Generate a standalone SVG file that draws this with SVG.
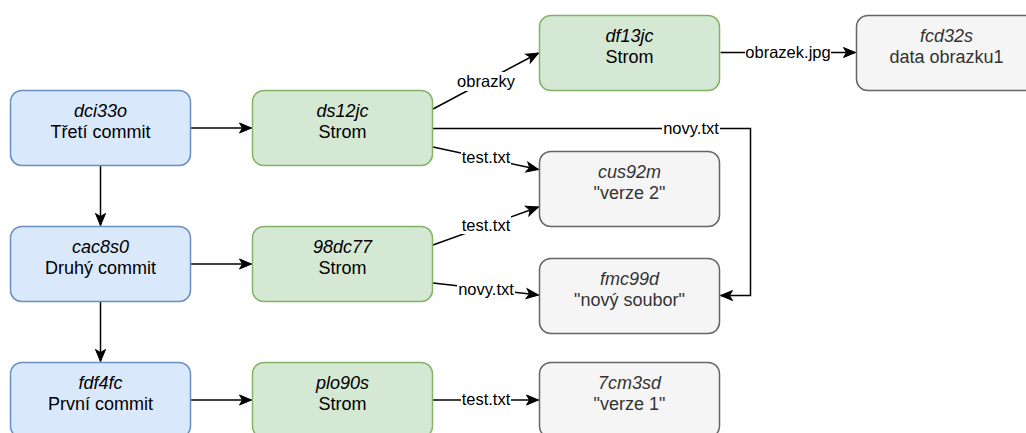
<svg xmlns="http://www.w3.org/2000/svg" width="1026" height="433" viewBox="0 0 1026 433">
<style>
.commit rect{fill:#dae8fc;stroke:#6c8ebf;stroke-width:1.5}
.tree rect{fill:#d5e8d4;stroke:#82b366;stroke-width:1.5}
.blob rect{fill:#f5f5f5;stroke:#666666;stroke-width:1.5}
text{font-family:"Liberation Sans",Arial,sans-serif;text-anchor:middle}
.id{font-size:18px;font-style:italic;fill:#000}
.nm{font-size:18px;fill:#000}
.blob .id,.blob .nm{fill:#333333}
.edge{fill:none;stroke:#000;stroke-width:1.5}
.arr{marker-end:url(#ah)}
.lbl{font-size:16.5px;fill:#000}
.lbg{fill:#fff}
</style>
<defs>
<marker id="ah" markerUnits="userSpaceOnUse" markerWidth="12" markerHeight="10" refX="12" refY="5" orient="auto" overflow="visible">
<path d="M0,0 L12,5 L0,10 L3,5 Z" fill="#000" stroke="#000" stroke-width="1"/>
</marker>
</defs>
<rect width="1026" height="433" fill="#fff"/>
<g id="connectors">
<path class="edge arr" d="M190.5,128 L251.5,128"/>
<path class="edge arr" d="M190.5,264 L251.5,264"/>
<path class="edge arr" d="M190.5,400 L251.5,400"/>
<path class="edge arr" d="M100.5,165.5 L100.5,225.5"/>
<path class="edge arr" d="M100.5,301.5 L100.5,361.5"/>
<path class="edge arr" d="M433,109 L538.5,53"/>
<path class="edge arr" d="M720.5,52.5 L855.5,52.5"/>
<path class="edge arr" d="M432.5,128.5 L750.5,128.5 L750.5,295.5 L720.5,295.5"/>
<path class="edge arr" d="M433,147 L538.5,169.5"/>
<path class="edge arr" d="M433,245 L538.5,207"/>
<path class="edge arr" d="M433,283 L538.5,295"/>
<path class="edge arr" d="M432.5,400 L538.5,400"/>
<rect class="lbg" x="457" y="72" width="58" height="19"/>
<text class="lbl" x="486" y="87">obrazky</text>
<rect class="lbg" x="745" y="43" width="86" height="19"/>
<text class="lbl" x="788" y="58">obrazek.jpg</text>
<rect class="lbg" x="662" y="119" width="58" height="19"/>
<text class="lbl" x="691" y="134">novy.txt</text>
<rect class="lbg" x="461" y="148" width="50" height="18"/>
<text class="lbl" x="486" y="163">test.txt</text>
<rect class="lbg" x="461" y="216" width="50" height="18"/>
<text class="lbl" x="486" y="231">test.txt</text>
<rect class="lbg" x="457" y="280" width="58" height="18"/>
<text class="lbl" x="486" y="295">novy.txt</text>
<rect class="lbg" x="461" y="390" width="50" height="18"/>
<text class="lbl" x="486" y="405">test.txt</text>
</g>
<g id="dci33o" class="commit"><rect x="10.5" y="90.5" width="180" height="75" rx="11.25"/><text class="id" x="100.5" y="116.5">dci33o</text><text class="nm" x="100.5" y="138">Třetí commit</text></g>
<g id="cac8s0" class="commit"><rect x="10.5" y="226.5" width="180" height="75" rx="11.25"/><text class="id" x="100.5" y="252.5">cac8s0</text><text class="nm" x="100.5" y="274">Druhý commit</text></g>
<g id="fdf4fc" class="commit"><rect x="10.5" y="362.5" width="180" height="75" rx="11.25"/><text class="id" x="100.5" y="388.5">fdf4fc</text><text class="nm" x="100.5" y="410">První commit</text></g>
<g id="ds12jc" class="tree"><rect x="252.5" y="90.5" width="180" height="75" rx="11.25"/><text class="id" x="342.5" y="116.5">ds12jc</text><text class="nm" x="342.5" y="138">Strom</text></g>
<g id="98dc77" class="tree"><rect x="252.5" y="226.5" width="180" height="75" rx="11.25"/><text class="id" x="342.5" y="252.5">98dc77</text><text class="nm" x="342.5" y="274">Strom</text></g>
<g id="plo90s" class="tree"><rect x="252.5" y="362.5" width="180" height="75" rx="11.25"/><text class="id" x="342.5" y="388.5">plo90s</text><text class="nm" x="342.5" y="410">Strom</text></g>
<g id="df13jc" class="tree"><rect x="539.5" y="15.5" width="180" height="75" rx="11.25"/><text class="id" x="629.5" y="41.5">df13jc</text><text class="nm" x="629.5" y="63">Strom</text></g>
<g id="fcd32s" class="blob"><rect x="856.5" y="15.5" width="180" height="75" rx="11.25"/><text class="id" x="946.5" y="41.5">fcd32s</text><text class="nm" x="946.5" y="63">data obrazku1</text></g>
<g id="cus92m" class="blob"><rect x="539.5" y="151.5" width="180" height="75" rx="11.25"/><text class="id" x="629.5" y="177.5">cus92m</text><text class="nm" x="629.5" y="199">"verze 2"</text></g>
<g id="fmc99d" class="blob"><rect x="539.5" y="258.5" width="180" height="75" rx="11.25"/><text class="id" x="629.5" y="284.5">fmc99d</text><text class="nm" x="629.5" y="306">"nový soubor"</text></g>
<g id="7cm3sd" class="blob"><rect x="539.5" y="362.5" width="180" height="75" rx="11.25"/><text class="id" x="629.5" y="388.5">7cm3sd</text><text class="nm" x="629.5" y="410">"verze 1"</text></g>
</svg>
